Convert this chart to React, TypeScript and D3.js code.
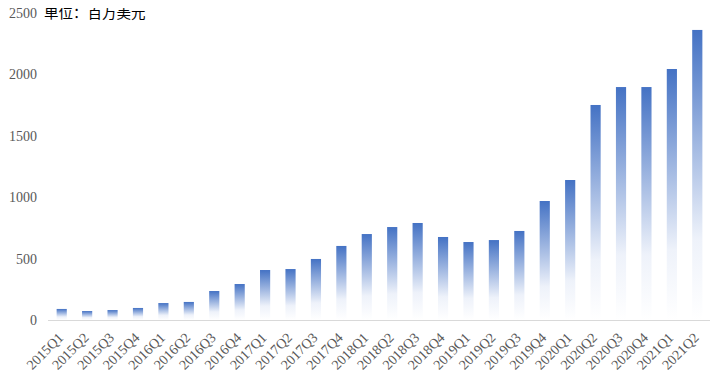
import React, { useRef, useEffect } from 'react';
import * as d3 from 'd3';

const quarters = [
  '2015Q1', '2015Q2', '2015Q3', '2015Q4',
  '2016Q1', '2016Q2', '2016Q3', '2016Q4',
  '2017Q1', '2017Q2', '2017Q3', '2017Q4',
  '2018Q1', '2018Q2', '2018Q3', '2018Q4',
  '2019Q1', '2019Q2', '2019Q3', '2019Q4',
  '2020Q1', '2020Q2', '2020Q3', '2020Q4',
  '2021Q1', '2021Q2'
];
const revenue = [
  90, 73, 81, 98,
  138, 147, 236, 293,
  407, 415, 497, 603,
  700, 757, 790, 676,
  635, 651, 725, 969,
  1140, 1751, 1897, 1897,
  2044, 2362
];
const yTicks = [0, 500, 1000, 1500, 2000, 2500];
const unitLabel = '单位：百万美元';

const W = 724;
const H = 389;

const App: React.FC = () => {
  const svgRef = useRef<SVGSVGElement>(null);

  useEffect(() => {
    if (!svgRef.current) return;
    const svg = d3.select(svgRef.current);
    svg.selectAll('*').remove();

    const x = d3.scaleBand<string>().domain(quarters).range([49, 710]).paddingInner(0.6).paddingOuter(0.3);
    const y = d3.scaleLinear().domain([0, 2500]).range([320, 13]);

    // blue -> white fade, per bar (bounding box units)
    const defs = svg.append('defs');
    const grad = defs.append('linearGradient')
      .attr('id', 'barGrad')
      .attr('x1', 0).attr('y1', 0).attr('x2', 0).attr('y2', 1);
    grad.append('stop').attr('offset', '0%').attr('stop-color', '#4472c4');
    grad.append('stop').attr('offset', '72%').attr('stop-color', '#eef2fa');
    grad.append('stop').attr('offset', '100%').attr('stop-color', '#ffffff');

    svg.selectAll('.bar')
      .data(revenue)
      .enter()
      .append('rect')
      .attr('class', 'bar')
      .attr('x', (d, i) => x(quarters[i])!)
      .attr('y', d => y(d))
      .attr('width', x.bandwidth())
      .attr('height', d => y(0) - y(d))
      .attr('fill', 'url(#barGrad)');

    // baseline
    svg.append('line')
      .attr('x1', 48).attr('x2', 710)
      .attr('y1', y(0) + 0.5).attr('y2', y(0) + 0.5)
      .attr('stroke', '#d9d9d9')
      .attr('stroke-width', 1);

    // y tick labels
    svg.selectAll('.ytick')
      .data(yTicks)
      .enter()
      .append('text')
      .attr('class', 'ytick')
      .attr('x', 37)
      .attr('y', d => y(d))
      .attr('dy', '0.35em')
      .attr('text-anchor', 'end')
      .style('font-family', '"Liberation Serif", serif')
      .style('font-size', '14px')
      .style('fill', '#595959')
      .text(d => d);

    svg.append('text')
      .attr('x', 44)
      .attr('y', y(2500))
      .attr('dy', '0.35em')
      .attr('lang', 'zh-CN')
      .style('font-family', '"Noto Sans CJK SC", sans-serif')
      .style('font-size', '14.5px')
      .style('fill', '#000')
      .text(unitLabel);

    // rotated quarter labels
    svg.selectAll('.xtick')
      .data(quarters)
      .enter()
      .append('text')
      .attr('class', 'xtick')
      .attr('transform', d => `translate(${x(d)! + x.bandwidth() / 2 - 1}, ${y(0) + 15}) rotate(-45)`)
      .attr('text-anchor', 'end')
      .attr('dy', '0.35em')
      .style('font-family', '"Liberation Serif", serif')
      .style('font-size', '14px')
      .style('fill', '#595959')
      .text(d => d);
  }, []);

  return (
    <div style={{ margin: -8 }}>
      <svg ref={svgRef} width={W} height={H} style={{ display: 'block', background: '#fff' }} />
    </div>
  );
};

export default App;
